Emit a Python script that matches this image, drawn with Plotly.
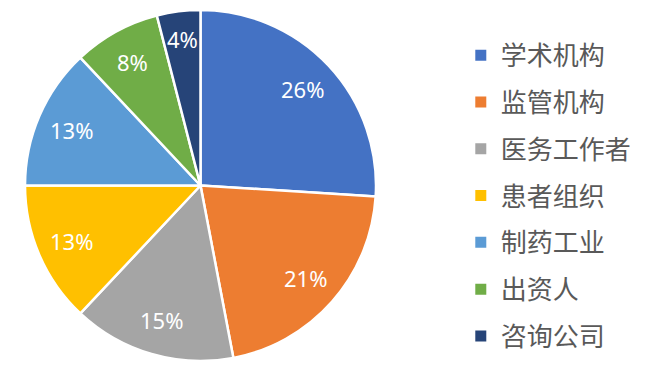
import math
import plotly.graph_objects as go

categories = ["学术机构", "监管机构", "医务工作者", "患者组织", "制药工业", "出资人", "咨询公司"]
values = [26, 21, 15, 13, 13, 8, 4]
colors = ["#4472C4", "#ED7D31", "#A5A5A5", "#FFC000", "#5B9BD5", "#70AD47", "#264478"]

W, H = 645, 366
dom_x = [17 / W, 368 / W]
dom_y = [1 - 353 / H, 1 - 2 / H]

fig = go.Figure()
fig.add_trace(go.Pie(
    labels=categories, values=values, sort=False, direction="clockwise", rotation=0,
    marker=dict(colors=colors, line=dict(color="white", width=2.5)),
    textinfo="none",
    domain=dict(x=dom_x, y=dom_y),
    showlegend=False, hoverinfo="label+percent",
))

# percentage labels placed along each slice bisector at 80% of radius
cx = (dom_x[0] + dom_x[1]) / 2 * W
cy = (dom_y[0] + dom_y[1]) / 2 * H
R = min((dom_x[1] - dom_x[0]) * W, (dom_y[1] - dom_y[0]) * H) / 2
total = sum(values)
cum = 0
for v in values:
    ang = 2 * math.pi * (cum + v / 2) / total
    cum += v
    rr = 0.8 * R if v >= 5 else 0.84 * R
    px = cx + rr * math.sin(ang)
    py = cy + rr * math.cos(ang)
    fig.add_annotation(x=px / W, y=py / H, xref="paper", yref="paper",
                       xanchor="center", yanchor="middle",
                       text=f"{round(100 * v / total)}%", showarrow=False,
                       font=dict(color="white", size=22, family="Noto Sans"))

for name, col in zip(categories, colors):
    fig.add_trace(go.Scatter(
        x=[None], y=[None], mode="markers", name=name, legendgroup=name,
        marker=dict(symbol="square", size=11, color=col),
    ))

fig.update_layout(
    width=W, height=H, margin=dict(l=0, r=0, t=0, b=0),
    paper_bgcolor="white", plot_bgcolor="white",
    xaxis=dict(visible=False), yaxis=dict(visible=False),
    legend=dict(x=0.702, y=0.487, xanchor="left", yanchor="middle",
                traceorder="grouped", tracegroupgap=10,
                font=dict(size=26, color="#595959", family="Noto Sans CJK SC"),
                itemclick=False),
)
fig.write_html("out.html")
